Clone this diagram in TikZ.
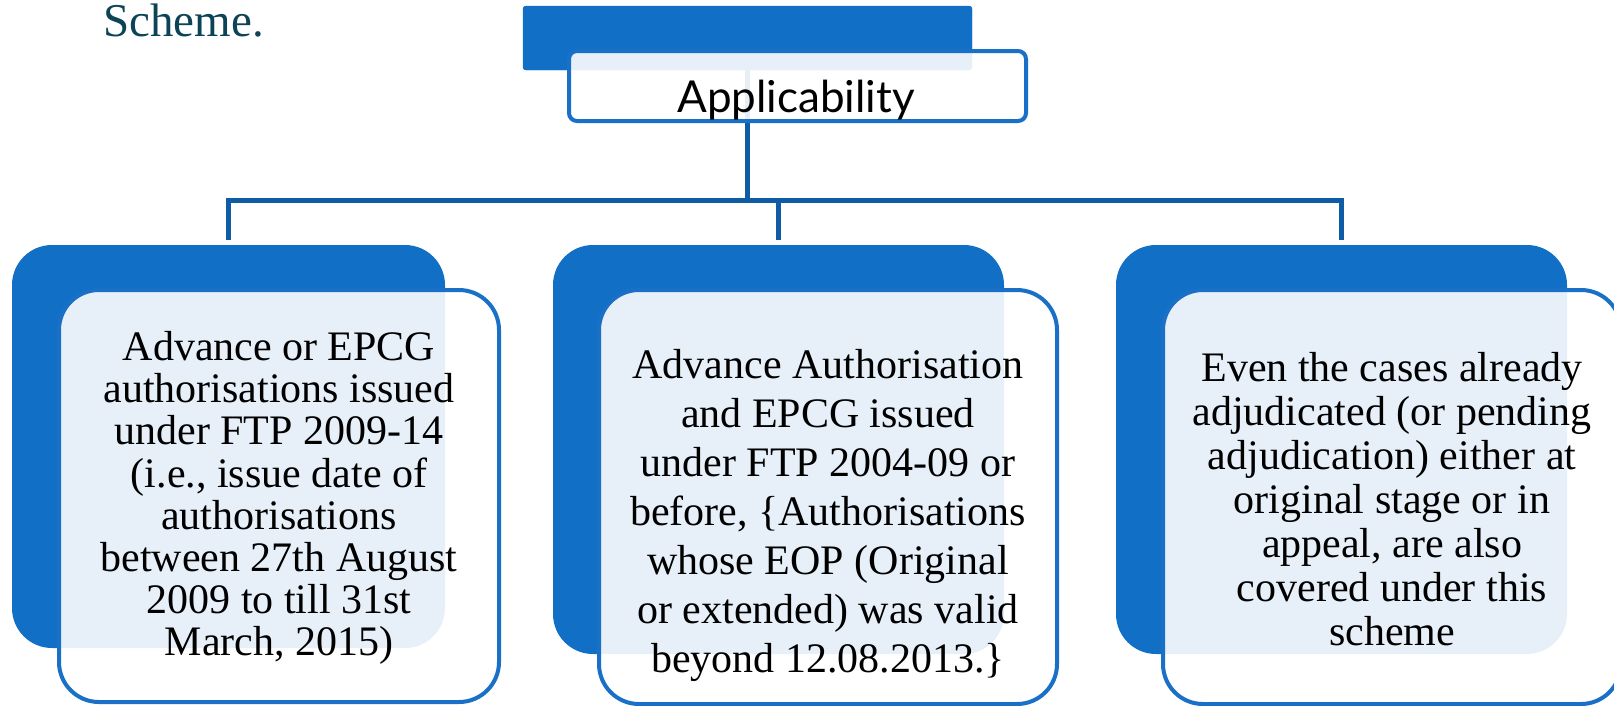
\documentclass[tikz,border=0pt]{standalone}
\usepackage{fontspec}
\setmainfont{Liberation Serif}
\newfontfamily\headfont{Lato}
\definecolor{boxblue}{HTML}{1170C5}
\definecolor{edgeblue}{HTML}{1A6FC6}
\definecolor{linkblue}{HTML}{0F5CA4}
\definecolor{teal}{HTML}{0D4356}
\tikzset{
  backbox/.style={rectangle, fill=boxblue, draw=none, inner sep=0pt, rounded corners=40pt},
  frontbox/.style={rectangle, fill=white, fill opacity=0.9, text opacity=1, draw=edgeblue,
    line width=4pt, inner sep=0pt, rounded corners=40pt, align=center, text=black},
  conn/.style={draw=linkblue, line width=5pt, line join=miter},
  bodytext/.style={font=\fontsize{42}{#1}\selectfont, align=center, inner sep=0pt}
}
\begin{document}
\begin{tikzpicture}[x=1pt,y=-1pt]
\useasboundingbox (0,0) rectangle (1614,705);

% heading fragment
\node[anchor=base west, text=teal, font=\fontsize{47}{50}\selectfont, inner sep=0pt] (scheme) at (103,36) {Scheme.};

% back boxes
\node[backbox, rounded corners=3pt, minimum width=449pt, minimum height=64pt] (topdark) at (747.5,38) {};
\node[backbox, minimum width=433pt, minimum height=403pt] (d1) at (228.5,446.5) {};
\node[backbox, minimum width=451pt, minimum height=409pt] (d2) at (778.5,449.5) {};
\node[backbox, minimum width=451pt, minimum height=409pt] (d3) at (1341.5,449.5) {};

% tree connectors, stopping just short of the boxes
\coordinate (hub) at (747.5,200.5);
\coordinate (s1) at ([yshift=5pt]d1.north);
\coordinate (s2) at ([yshift=5pt]d2.north);
\coordinate (s3) at ([yshift=5pt]d3.north);
\draw[conn] (topdark.center) -- (hub);
\draw[conn] (s1) |- (hub) -| (s3);
\draw[conn] (hub -| s2) -- (s2);

% cover the connector start with the top back box
\fill[boxblue, rounded corners=3pt] (topdark.north west) rectangle (topdark.south east);

% front boxes
\node[frontbox, rounded corners=8pt, minimum width=457pt, minimum height=70pt] (apply) at (797.5,86) {};
\node[font=\headfont\fontsize{44}{48}\selectfont, anchor=base, inner sep=0pt] (applytext) at (796,112) {Applicability};

\node[frontbox, minimum width=440pt, minimum height=412pt] (w1) at (279,496) {};
\node[frontbox, minimum width=458pt, minimum height=414pt] (w2) at (828,497) {};
\node[frontbox, minimum width=458pt, minimum height=414pt] (w3) at (1392,497) {};

% box texts
\node[bodytext=42.2] (t1) at (279,498)
  {Advance or EPCG\\authorisations issued\\under FTP 2009-14\\(i.e., issue date of\\authorisations\\between 27th August\\2009 to till 31st\\March, 2015)};
\node[bodytext=49] (t2) at (828,515)
  {Advance Authorisation\\and EPCG issued\\under FTP 2004-09 or\\before, \{Authorisations\\whose EOP (Original\\or extended) was valid\\beyond 12.08.2013.\}};
\node[bodytext=44] (t3) at (1392,499)
  {Even the cases already\\adjudicated (or pending\\adjudication) either at\\original stage or in\\appeal, are also\\covered under this\\scheme};
\end{tikzpicture}
\end{document}
